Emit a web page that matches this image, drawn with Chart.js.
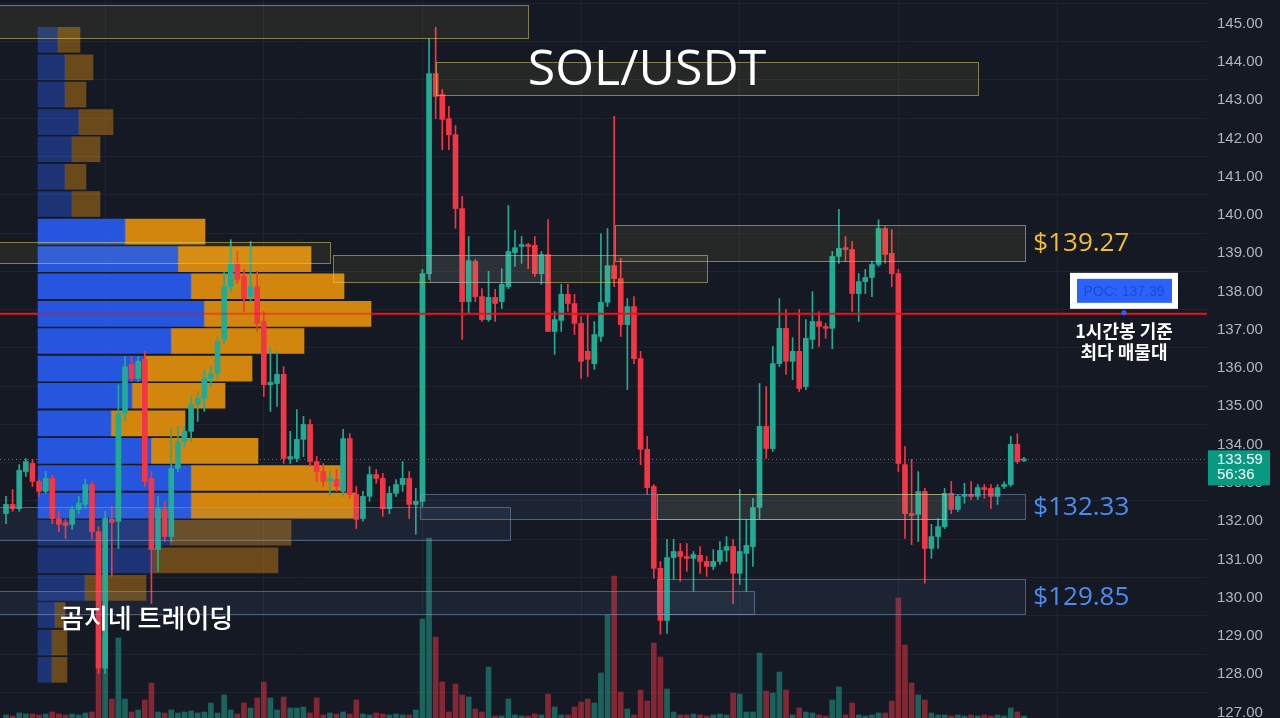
<!DOCTYPE html>
<html>
<head>
<meta charset="utf-8">
<script src="https://cdn.jsdelivr.net/npm/chart.js@4.4.1/dist/chart.umd.min.js"></script>
<style>
html,body{margin:0;padding:0;background:#151924;overflow:hidden}
#wrap{width:1280px;height:718px;position:relative}
canvas{display:block}
</style>
</head>
<body>
<div id="wrap"><canvas id="c" width="1280" height="718"></canvas></div>
<script>
// ---- 1h candles (SOL/USDT) ----
const opens = [
132.17,132.41,132.30,133.27,133.48,133.01,132.75,133.09,132.04,131.94,
131.89,132.28,132.41,132.93,131.70,128.13,132.02,131.97,134.79,136.07,
135.70,136.20,133.09,131.23,132.28,131.57,133.35,134.05,134.32,135.02,
135.18,135.70,135.83,136.72,138.10,138.71,138.37,137.84,138.10,137.19,
135.54,135.57,135.81,133.61,133.61,134.11,134.50,133.53,133.27,133.01,
133.06,132.75,134.13,132.67,132.04,132.62,133.19,133.09,132.30,132.70,
132.93,133.09,132.41,132.49,138.44,143.67,143.12,142.49,142.07,140.14,
137.71,138.76,137.84,137.24,137.82,137.71,138.10,138.99,139.15,139.20,
139.18,138.44,138.94,136.93,137.22,137.90,137.66,137.14,136.41,136.09,
136.80,137.69,138.65,138.31,137.11,137.58,136.22,133.85,132.88,130.74,
129.38,131.02,131.18,131.05,131.00,131.08,130.92,130.79,130.92,131.21,
131.31,130.61,131.13,131.31,132.33,134.45,133.87,136.09,137.01,136.15,
136.41,135.49,136.72,137.19,137.06,137.01,138.89,139.12,139.07,137.92,
138.23,138.34,138.68,139.62,138.97,138.44,133.45,132.17,132.15,132.75,
131.26,131.57,131.83,132.70,132.28,132.62,132.67,132.62,132.85,132.83,
132.62,132.88,132.93,133.98,133.56];
const highs = [
132.62,132.80,133.45,133.61,133.59,133.06,133.27,133.17,132.23,132.02,
132.36,132.62,133.06,133.01,131.83,132.23,132.36,135.54,136.28,136.28,
136.28,136.41,133.27,132.62,132.49,134.39,134.45,134.45,135.23,135.36,
135.94,136.01,136.80,138.50,139.33,139.02,138.55,139.28,138.50,137.45,
136.48,136.41,136.01,134.32,134.89,134.71,134.63,133.66,133.48,133.27,
133.32,134.37,134.26,132.88,132.75,133.40,133.32,133.22,132.88,133.06,
133.53,133.27,132.83,138.55,144.58,144.88,143.25,142.81,142.31,140.46,
139.41,138.81,138.05,138.50,138.03,138.57,140.22,139.57,139.41,139.23,
139.41,139.02,139.85,137.45,138.16,138.16,137.90,137.32,137.40,137.19,
139.49,139.62,142.55,138.84,137.79,137.84,136.41,134.19,132.93,130.92,
131.50,131.50,131.39,131.39,131.18,131.31,131.05,131.23,131.44,131.57,
131.50,132.80,132.02,132.57,135.57,135.49,136.54,137.79,137.50,136.77,
137.50,137.24,137.97,137.45,137.14,139.02,140.12,139.41,139.28,138.44,
138.55,138.76,139.85,139.67,139.59,138.55,133.92,133.59,133.27,132.83,
131.89,132.04,132.83,133.01,132.67,132.96,133.01,132.93,132.93,132.93,
132.93,133.01,134.19,134.26,133.64];
const lows = [
131.91,132.23,132.23,133.14,132.88,132.62,132.70,131.91,131.70,131.52,
131.76,132.17,132.30,131.50,127.99,127.99,130.53,131.26,134.58,135.62,
135.62,132.88,129.82,130.66,131.44,131.44,133.27,133.92,134.05,134.58,
134.84,135.49,135.67,136.62,137.97,138.18,137.45,137.71,136.93,135.23,
134.84,134.97,133.48,133.48,133.53,133.66,133.40,133.01,132.88,132.62,
132.75,132.62,132.57,131.78,131.97,132.49,132.96,132.10,132.17,132.62,
132.75,132.04,131.63,132.36,138.29,142.49,141.68,141.68,139.62,136.72,
137.40,137.71,137.19,137.19,137.19,137.53,138.05,138.63,138.71,138.57,
138.37,138.16,136.93,136.33,136.93,137.45,136.85,135.70,135.75,135.94,
136.67,137.58,138.10,136.80,135.41,136.09,133.45,132.67,130.48,129.02,
129.04,130.45,130.40,130.66,130.14,130.61,130.53,130.71,130.84,130.92,
129.82,130.32,130.14,130.79,132.04,133.61,133.79,136.01,135.81,135.67,
135.36,135.41,136.48,136.54,136.75,136.48,138.71,138.76,137.45,137.19,
137.92,137.84,138.63,138.71,138.10,133.27,131.52,131.36,131.44,130.35,
131.00,131.26,131.78,132.17,132.23,132.44,132.54,132.54,132.57,132.30,
132.41,132.83,132.88,133.48,133.53];
const closes = [
132.41,132.30,133.30,133.53,133.01,132.75,133.09,132.04,131.89,131.86,
132.28,132.44,132.93,131.70,128.13,132.04,131.94,134.79,136.01,135.70,
136.15,133.01,131.23,132.30,131.57,133.35,134.05,134.32,135.02,135.18,
135.70,135.83,136.67,138.10,138.71,138.29,137.79,138.10,137.14,135.54,
135.60,135.81,133.61,133.66,134.11,134.50,133.53,133.27,133.01,133.09,
132.88,134.13,132.67,132.02,132.62,133.19,133.09,132.30,132.70,132.93,
133.09,132.41,132.49,138.44,143.67,143.07,142.47,142.07,140.14,137.71,
138.78,137.84,137.24,137.82,137.66,138.16,139.02,139.12,139.20,139.15,
138.44,138.94,136.93,137.24,137.90,137.66,137.14,136.15,136.20,136.85,
137.69,138.65,138.31,137.11,137.58,136.22,133.85,132.85,130.74,129.38,
131.02,131.18,131.05,131.00,131.10,130.92,130.79,130.92,131.21,131.31,
130.61,131.18,131.34,132.33,134.45,133.87,136.09,137.01,136.15,136.41,
135.44,136.75,137.19,137.06,137.01,138.89,139.10,139.07,137.92,138.23,
138.34,138.68,139.62,138.94,138.44,133.48,132.17,132.12,132.75,131.26,
131.57,131.83,132.70,132.28,132.62,132.67,132.62,132.85,132.80,132.62,
132.85,132.93,133.98,133.53,133.59];
// volume (K SOL)
const volumes = [
0.3,0.2,0.5,0.4,0.4,0.3,0.4,0.6,0.4,0.3,
0.4,0.3,0.5,0.6,11.0,8.0,1.9,8.0,1.9,0.6,
0.8,1.8,3.5,0.6,0.5,0.8,0.5,0.6,0.7,0.5,
0.6,1.5,0.5,2.3,0.8,0.4,1.5,1.0,2.0,3.6,
2.0,0.8,2.1,1.0,1.0,1.1,0.5,2.0,0.3,0.5,
0.4,0.6,0.4,1.8,0.4,0.3,0.5,0.4,0.3,0.4,
0.3,0.3,0.8,9.9,18.0,8.1,3.6,0.6,3.4,2.3,
2.1,0.9,0.6,5.1,0.2,0.2,1.9,0.3,0.2,0.2,
0.4,0.3,2.4,1.1,0.3,0.3,1.1,1.6,1.9,1.5,
4.5,10.3,14.2,2.6,0.9,0.3,2.8,1.7,7.5,6.1,
2.9,0.6,0.3,0.3,0.4,0.3,0.2,0.3,0.4,0.3,
2.5,2.4,0.6,0.6,6.5,2.7,2.5,4.6,2.8,0.3,
1.0,0.6,0.5,0.3,0.2,1.8,3.1,0.3,1.5,0.3,
0.2,0.3,0.5,0.5,1.7,12.0,7.3,3.5,2.3,1.8,
0.5,0.3,0.3,0.2,0.3,0.2,0.3,0.2,0.3,0.2,
0.3,0.2,1.0,0.6,0.2];

// ---- visible-range volume profile (rows) ----
const vpPrices = [144.55,143.83,143.12,142.40,141.69,140.97,140.26,139.54,138.82,138.11,137.39,136.68,
                  135.96,135.25,134.53,133.81,133.10,132.38,131.67,130.95,130.23,129.52,128.80,128.09];
const vpUp   = [20,27,27,41,34,27,34,87,140,153,166,133,107,94,73,113,153,153,132,115,47,17,14,14];
const vpDown = [22,28,21,34,28,21,28,80,133,153,167,133,107,93,74,107,152,165,121,125,61,10,15,15];
const valueAreaFirst = 7, valueAreaLast = 17;

// ---- price axis ----
const priceTicks = [127,128,129,130,131,132,133,134,135,136,137,138,139,140,141,142,143,144,145];
const dayStarts = [15,39,63,87,111,135,159];

// ---- drawn zones (candle index range, price range) ----
const zoneStart = [-1, 65.1, -1, 49.5, 64.1, 92.1, -1, 62.6, 98.5, -1, 98.5];
const zoneEnd   = [79.0, 147.0, 49.0, 106.0, 81.8, 154.2, 76.2, 154.2, 142.1, 113.2, 154.2];
const zoneHigh  = [145.45,143.96,139.28,138.94,138.94,139.70,132.33,132.67,132.67,130.14,130.45];
const zoneLow   = [144.61,143.12,138.71,138.23,138.23,138.78,131.47,132.02,132.02,129.54,129.54];
const zoneType  = ['sell','sell','sell','sell','buy','sell','buy','buy','sell','buy','buy'];
const zoneLabel = ['','','','','','$139.27','','$132.33','','','$129.85'];

const countdown = '56:36';

// -------------------------------------------------
const idx = opens.map((_, i) => i);
const isUp = idx.map(i => closes[i] >= opens[i]);
const UP = '#22ab94', DN = '#f23645';
const pocRow = vpUp.map((u, k) => u + vpDown[k]).reduce((b, v, k, a) => v > a[b] ? k : b, 0);
const pocPrice = vpPrices[pocRow];
const lastClose = closes[closes.length - 1];

const bgPlugin = {
  id: 'bg',
  beforeDraw(chart) {
    const c = chart.ctx; c.save(); c.fillStyle = '#151924'; c.fillRect(0, 0, chart.width, chart.height); c.restore();
  }
};

const overlay = {
  id: 'overlay',
  beforeDatasetsDraw(chart) {
    const { ctx, scales: { y }, chartArea: ca } = chart;
    ctx.save();
    const yp = Math.round(y.getPixelForValue(lastClose)) + 0.5;
    ctx.strokeStyle = 'rgba(34,171,148,0.9)';
    ctx.lineWidth = 1;
    ctx.setLineDash([1, 3]);
    ctx.beginPath(); ctx.moveTo(ca.left, yp); ctx.lineTo(ca.right, yp); ctx.stroke();
    ctx.restore();
  },
  afterDatasetsDraw(chart) {
    const { ctx, scales: { x, y, xVP }, chartArea: ca } = chart;
    ctx.save();
    ctx.beginPath(); ctx.rect(ca.left, ca.top, ca.right - ca.left, ca.bottom - ca.top); ctx.clip();
    // zones
    zoneStart.forEach((s, k) => {
      const x0 = Math.round(x.getPixelForValue(s)) + 0.5;
      const x1 = Math.round(x.getPixelForValue(zoneEnd[k])) + 0.5;
      const y0 = Math.round(y.getPixelForValue(zoneHigh[k])) + 0.5;
      const y1 = Math.round(y.getPixelForValue(zoneLow[k])) + 0.5;
      if (zoneType[k] === 'sell') {
        ctx.fillStyle = 'rgba(255,235,80,0.07)';
        ctx.strokeStyle = 'rgba(215,205,100,0.55)';
      } else {
        ctx.fillStyle = 'rgba(100,140,190,0.10)';
        ctx.strokeStyle = 'rgba(130,160,200,0.50)';
      }
      ctx.fillRect(x0, y0, x1 - x0, y1 - y0);
      ctx.lineWidth = 1;
      ctx.strokeRect(x0, y0, x1 - x0, y1 - y0);
    });
    // POC line
    const py = y.getPixelForValue(pocPrice);
    const vpL = xVP.getPixelForValue(0), vpR = xVP.getPixelForValue(vpUp[pocRow] + vpDown[pocRow]);
    ctx.lineWidth = 2;
    ctx.strokeStyle = '#e8101c';
    ctx.beginPath(); ctx.moveTo(ca.left, py); ctx.lineTo(vpL, py); ctx.moveTo(vpR, py); ctx.lineTo(ca.right, py); ctx.stroke();
    ctx.strokeStyle = 'rgba(232,16,28,0.45)';
    ctx.beginPath(); ctx.moveTo(vpL, py); ctx.lineTo(vpR, py); ctx.stroke();
    ctx.restore();

    // zone price labels
    ctx.save();
    ctx.font = '500 26px "Open Sans", "Noto Sans", sans-serif';
    ctx.textBaseline = 'middle';
    ctx.textAlign = 'left';
    zoneLabel.forEach((t, k) => {
      if (!t) return;
      const xe = x.getPixelForValue(zoneEnd[k]);
      const yc = (y.getPixelForValue(zoneHigh[k]) + y.getPixelForValue(zoneLow[k])) / 2;
      ctx.fillStyle = zoneType[k] === 'sell' ? '#f2be2e' : '#4a8cf0';
      ctx.fillText(t, xe + 8, yc + 1);
    });
    ctx.restore();

    // POC label box
    ctx.save();
    const cx = 1124;
    ctx.fillStyle = '#ffffff';
    ctx.fillRect(cx - 54, py - 41, 108, 36);
    ctx.fillStyle = '#2962ff';
    ctx.fillRect(cx - 47, py - 35, 95, 24);
    ctx.fillStyle = '#1f4bc4';
    ctx.font = '14px "Liberation Sans", Arial, sans-serif';
    ctx.textAlign = 'center'; ctx.textBaseline = 'middle';
    ctx.fillText('POC: ' + pocPrice.toFixed(2), cx, py - 22);
    ctx.fillStyle = '#2962ff';
    ctx.beginPath(); ctx.arc(cx, py - 1, 2.5, 0, Math.PI * 2); ctx.fill();
    ctx.fillStyle = '#ffffff';
    ctx.font = 'bold 18px "Noto Sans CJK KR", sans-serif';
    ctx.fillText('1시간봉 기준', cx, py + 17);
    ctx.fillText('최다 매물대', cx, py + 38);
    ctx.restore();

    // titles
    ctx.save();
    ctx.fillStyle = '#ffffff';
    ctx.textAlign = 'center'; ctx.textBaseline = 'alphabetic';
    ctx.font = '50px "Open Sans", "Noto Sans", sans-serif';
    ctx.fillText('SOL/USDT', 647, 85);
    ctx.textAlign = 'left'; ctx.textBaseline = 'middle';
    ctx.font = '500 26px "Noto Sans CJK KR", sans-serif';
    ctx.fillText('곰지네 트레이딩', 60, 618);
    ctx.restore();
  },
  afterDraw(chart) {
    const { ctx, scales: { y } } = chart;
    const yp = y.getPixelForValue(lastClose);
    ctx.save();
    ctx.fillStyle = '#089981';
    ctx.fillRect(y.left + 1, yp - 9, 62, 35);
    ctx.fillStyle = '#ffffff';
    ctx.font = '15px "Liberation Sans", Arial, sans-serif';
    ctx.textAlign = 'left'; ctx.textBaseline = 'middle';
    ctx.fillText(lastClose.toFixed(2), y.left + 10, yp + 1);
    ctx.fillText(countdown, y.left + 10, yp + 16);
    ctx.restore();
  }
};

const vpColor = (k, bright, faded) => (k >= valueAreaFirst && k <= valueAreaLast) ? bright : faded;

new Chart(document.getElementById('c'), {
  type: 'bar',
  data: {
    datasets: [
      {
        label: 'body', order: 0, grouped: false, xAxisID: 'x', yAxisID: 'y',
        data: idx.map(i => ({ x: i, y: [Math.min(opens[i], closes[i]), Math.max(opens[i], closes[i])] })),
        backgroundColor: idx.map(i => isUp[i] ? UP : DN),
        barThickness: 5, minBarLength: 1.5
      },
      {
        label: 'wick', order: 1, grouped: false, xAxisID: 'x', yAxisID: 'y',
        data: idx.map(i => ({ x: i, y: [lows[i], highs[i]] })),
        backgroundColor: idx.map(i => isUp[i] ? UP : DN),
        barThickness: 1
      },
      {
        label: 'vpUp', order: 2, grouped: false, indexAxis: 'y', xAxisID: 'xVP', yAxisID: 'y',
        data: vpPrices.map((p, k) => ({ y: p, x: [0, vpUp[k]] })),
        backgroundColor: vpPrices.map((p, k) => vpColor(k, 'rgba(41,98,255,0.85)', 'rgba(41,98,255,0.38)')),
        barThickness: 25
      },
      {
        label: 'vpDown', order: 3, grouped: false, indexAxis: 'y', xAxisID: 'xVP', yAxisID: 'y',
        data: vpPrices.map((p, k) => ({ y: p, x: [vpUp[k], vpUp[k] + vpDown[k]] })),
        backgroundColor: vpPrices.map((p, k) => vpColor(k, 'rgba(245,154,11,0.85)', 'rgba(245,154,11,0.38)')),
        barThickness: 25
      },
      {
        label: 'volume', order: 4, grouped: false, xAxisID: 'x', yAxisID: 'yVol',
        data: idx.map(i => ({ x: i, y: volumes[i] })),
        backgroundColor: idx.map(i => isUp[i] ? 'rgba(34,171,148,0.5)' : 'rgba(242,54,69,0.5)'),
        barThickness: 5
      }
    ]
  },
  options: {
    responsive: false,
    animation: false,
    events: [],
    devicePixelRatio: 1,
    layout: { padding: 0 },
    plugins: { legend: { display: false }, tooltip: { enabled: false }, title: { display: false } },
    scales: {
      x: {
        type: 'linear', min: -0.908, max: 181.69, offset: false,
        grid: { color: '#1f2330', drawTicks: false, offset: false },
        border: { display: false },
        ticks: { display: false, padding: 0 },
        afterBuildTicks: ax => { ax.ticks = dayStarts.map(v => ({ value: v })); },
        afterFit: ax => { ax.height = 0; ax.paddingLeft = 0; ax.paddingRight = 0; ax.paddingTop = 0; ax.paddingBottom = 0; }
      },
      y: {
        type: 'linear', position: 'right', min: 126.83, max: 145.59, offset: false,
        grid: { color: '#1f2330', drawTicks: false },
        border: { display: false },
        ticks: {
          includeBounds: false, padding: 10, color: '#b2b5be', labelOffset: 1,
          font: { family: '"Liberation Sans", Arial, sans-serif', size: 15 },
          callback: v => Number(v).toFixed(2)
        },
        afterBuildTicks: ax => { ax.ticks = priceTicks.map(v => ({ value: v })); },
        afterFit: ax => { ax.width = 73; ax.paddingTop = 0; ax.paddingBottom = 0; }
      },
      yVol: { type: 'linear', display: false, min: 0, max: 71.8, offset: false },
      xVP: { type: 'linear', display: false, min: -38, max: 1169, offset: false }
    }
  },
  plugins: [bgPlugin, overlay]
});
</script>
</body>
</html>
